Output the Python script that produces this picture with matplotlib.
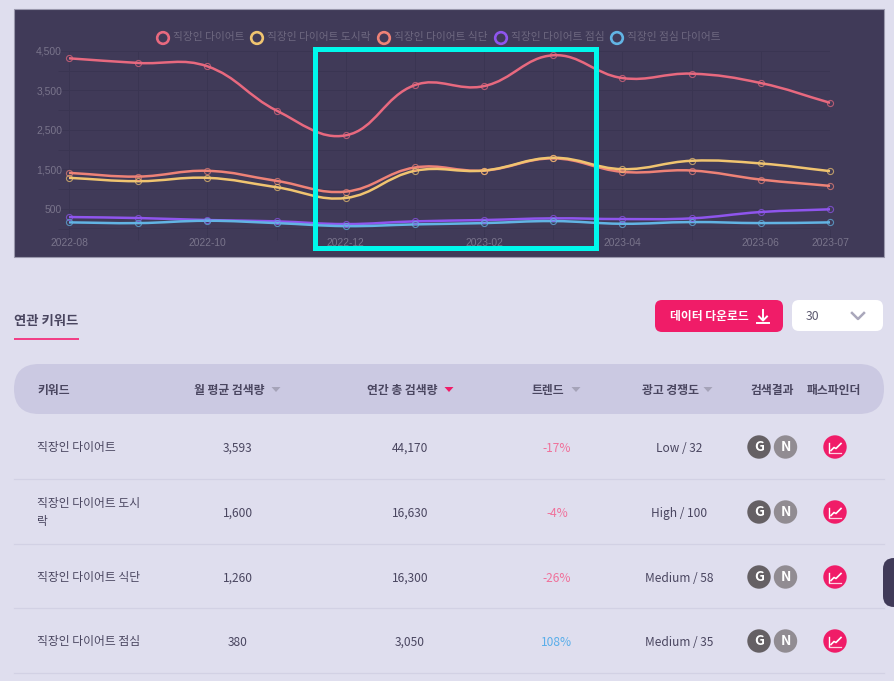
import numpy as np
import matplotlib
matplotlib.use("Agg")
import matplotlib.pyplot as plt
from matplotlib.patches import Rectangle, FancyBboxPatch, Circle, Polygon, PathPatch
from matplotlib.path import Path

plt.rcParams['font.family'] = ['Noto Sans CJK KR', 'DejaVu Sans']

months = ['2022-08','2022-09','2022-10','2022-11','2022-12','2023-01','2023-02','2023-03','2023-04','2023-05','2023-06','2023-07']
shown_months = ['2022-08','2022-10','2022-12','2023-02','2023-04','2023-06','2023-07']
s_diet = [4315,4197,4112,2992,2364,3637,3611,4392,3815,3926,3688,3188]
s_lunchbox = [1288,1203,1288,1050,778,1466,1473,1796,1508,1720,1652,1458]
s_meal = [1414,1320,1466,1211,939,1550,1473,1780,1440,1473,1244,1084]
s_lunch = [295,270,219,186,117,186,219,262,244,262,422,491]
s_lunch2 = [160,142,201,142,66,109,142,193,125,168,142,160]
series_names = ['직장인 다이어트','직장인 다이어트 도시락','직장인 다이어트 식단','직장인 다이어트 점심','직장인 점심 다이어트']
series_colors = ['#e8697f','#f0c470','#ee8277','#8f55ee','#62b4e4']
y_ticks = [0,500,1000,1500,2000,2500,3000,3500,4000,4500]
y_labels = ['4,500','3,500','2,500','1,500','500']

headers = ['월 평균 검색량','연간 총 검색량','트렌드','광고 경쟁도','검색결과','패스파인더']
keywords = ['직장인 다이어트','직장인 다이어트 도시\n락','직장인 다이어트 식단','직장인 다이어트 점심']
monthly = ['3,593','1,600','1,260','380']
yearly = ['44,170','16,630','16,300','3,050']
trend = ['-17%','-4%','-26%','108%']
competition = ['Low / 32','High / 100','Medium / 58','Medium / 35']

W, H = 895, 681
fig = plt.figure(figsize=(W/100, H/100), dpi=100, facecolor='#dfdeee')
pg = fig.add_axes([0,0,1,1], zorder=0)
pg.set_xlim(0,W); pg.set_ylim(H,0); pg.axis('off')

INK = '#4a4660'
GRID = '#3a3552'
# chart panel
pg.add_patch(Rectangle((14.5,8.5),870,248.5,fc='#403a58',ec='#9a98ad',lw=0.8))

# chart axes, pixel box
x0,x1,ytop,ybot = 69,830,51,228.7
ax = fig.add_axes([x0/W,1-ybot/H,(x1-x0)/W,(ybot-ytop)/H], zorder=1)
ax.patch.set_alpha(0)
ax.set_xlim(0,len(months)-1); ax.set_ylim(0,4500)
for s in ax.spines.values(): s.set_visible(False)
ax.set_xticks(range(len(months))); ax.set_xticklabels([m if m in shown_months else '' for m in months], fontsize=7.4, color='#79748b', family=['Liberation Sans'])
ax.set_yticks(y_ticks); ax.set_yticklabels([f'{v:,}' if f'{v:,}' in y_labels else '' for v in y_ticks], fontsize=7.5, color='#79748b', family=['Liberation Sans'])
ax.tick_params(axis='x', length=8, width=0.6, color=GRID, pad=-1.5)
ax.tick_params(axis='y', length=8, width=0.6, color=GRID, pad=-3)
ax.grid(True,color=GRID,lw=0.7)
ax.set_axisbelow(True)
ax.axhline(0,color='#2a2640',lw=1,zorder=1.5)

def spline_path(xs,ys,t=0.4):
    # chart.js style bezier, evaluated in screen-like proportions
    sx=(x1-x0)/(len(xs)-1); sy=(ybot-ytop)/4500
    P=np.c_[np.array(xs,float)*sx,np.array(ys,float)*sy]
    v=[tuple(P[0])];c=[Path.MOVETO]
    cps=[]
    for i in range(len(P)):
        p=P[max(i-1,0)];q=P[i];n=P[min(i+1,len(P)-1)]
        d01=np.hypot(*(q-p));d12=np.hypot(*(n-q))
        tot=d01+d12 or 1
        cps.append((q-t*d01/tot*(n-p),q+t*d12/tot*(n-p)))
    for i in range(len(P)-1):
        v+= [tuple(cps[i][1]),tuple(cps[i+1][0]),tuple(P[i+1])];c+=[Path.CURVE4]*3
    v=np.array(v)/[sx,sy]
    return Path(v,c)

xs=list(range(len(months)))
order=[(s_diet,0),(s_lunchbox,1),(s_meal,2),(s_lunch,3),(s_lunch2,4)]
for vals,i in [order[0],order[2],order[1],order[3],order[4]]:
    col=series_colors[i]
    ax.add_patch(PathPatch(spline_path(xs,vals),fc='none',ec=col,lw=1.8,zorder=3,clip_on=False))
    ax.plot(xs,vals,ls='none',marker='o',ms=4.4,mfc='none',mec=col,mew=0.8,zorder=4,alpha=.7,clip_on=False)

# legend
leg_x=[163,257,384,501,617]
for x,n,c in zip(leg_x,series_names,series_colors):
    pg.add_patch(Circle((x,38),5.8,fc='#403a58',ec=c,lw=1.9,zorder=2))
    fig.text((x+10)/W,1-37/H,n,fontsize=7.7,color='#6e6880',va='center',ha='left',zorder=5)

# highlight box
fig.add_artist(Rectangle((315.5/W,1-248.2/H),280/W,199.7/H,fc='none',ec='#00f8ec',lw=3.6,transform=fig.transFigure,zorder=6))

# section title
pg.text(14,320.5,'연관 키워드',fontsize=9.6,fontweight='bold',color=INK,va='center',ha='left')
pg.add_patch(Rectangle((14,337.5),65,2,fc='#f13f86',ec='none'))

# buttons
pg.add_patch(FancyBboxPatch((655,300),128,32,boxstyle='round,pad=0,rounding_size=7',fc='#f01c68',ec='none'))
pg.text(670,316.5,'데이터 다운로드',fontsize=8.5,fontweight='bold',color='white',va='center',ha='left')
pg.plot([763,763],[310,320],color='white',lw=1.4)
pg.plot([759,763,767],[316.5,320.5,316.5],color='white',lw=1.4)
pg.plot([757,769],[323,323],color='white',lw=1.4)
pg.add_patch(FancyBboxPatch((792,300),91,31,boxstyle='round,pad=0,rounding_size=7',fc='white',ec='none'))
pg.text(806,316.5,'30',fontsize=8.8,color='#5d5a70',va='center',ha='left')
pg.plot([852,858,864],[313,319,313],color='#a9a7bb',lw=1.8)

# table header
pg.add_patch(FancyBboxPatch((14,364),870,50,boxstyle='round,pad=0,rounding_size=25',fc='#cbc9e2',ec='none'))
pg.text(37,390.5,'키워드',fontsize=8.5,fontweight='bold',color=INK,va='center',ha='left')
hx=[229,402,548,671,772,834]
for x,h in zip(hx,headers):
    pg.text(x,390.5,h,fontsize=8.5,fontweight='bold',color=INK,va='center',ha='center')
def tri(x,c):
    pg.add_patch(Polygon([(x-4.5,387),(x+4.5,387),(x,392)],fc=c,ec='none'))
tri(276,'#a5a3b8'); tri(449,'#f01c68'); tri(576,'#a5a3b8'); tri(708,'#a5a3b8')

# table rows
row_y=[447,512,577,641]
for y in [479,544,608,673]:
    pg.plot([14,884],[y,y],color='#d2d1e4',lw=0.9)
trend_cols=['#f0709a','#f0709a','#f0709a','#5aaeea']
for i,y in enumerate(row_y):
    pg.text(37,y+0.5,keywords[i],fontsize=8.5,color=INK,va='center',ha='left',linespacing=1.45)
    pg.text(238,y+5,monthly[i],fontsize=8.6,color=INK,va='baseline',ha='center')
    pg.text(410,y+5,yearly[i],fontsize=8.6,color=INK,va='baseline',ha='center')
    pg.text(557,y+5,trend[i],fontsize=8.6,color=trend_cols[i],va='baseline',ha='center')
    pg.text(679,y+5,competition[i],fontsize=8.6,color=INK,va='baseline',ha='center')
    pg.add_patch(Circle((759,y),11.7,fc='#656064',ec='none'))
    pg.text(759,y-0.3,'G',fontsize=10,fontweight='black',color='white',va='center',ha='center')
    pg.add_patch(Circle((785.5,y),11.7,fc='#918c92',ec='none'))
    pg.text(785.5,y-0.3,'N',fontsize=10,fontweight='black',color='white',va='center',ha='center')
    pg.add_patch(Circle((835,y),11.7,fc='#f01c68',ec='none'))
    pg.plot([829,829],[y-4.5,y+5],color='white',lw=1)
    pg.plot([829,841.5],[y+6,y+6],color='#ffd0e0',lw=0.9)
    pg.plot([831,834,836,838.5,841],[y+3.5,y+0.5,y+1.5,y-1,y-3.5],color='white',lw=1.2)

# side tab
pg.add_patch(FancyBboxPatch((883,558),30,49,boxstyle='round,pad=0,rounding_size=11',fc='#403a58',ec='none'))
fig.savefig('out.png',dpi=100,facecolor=fig.get_facecolor())
